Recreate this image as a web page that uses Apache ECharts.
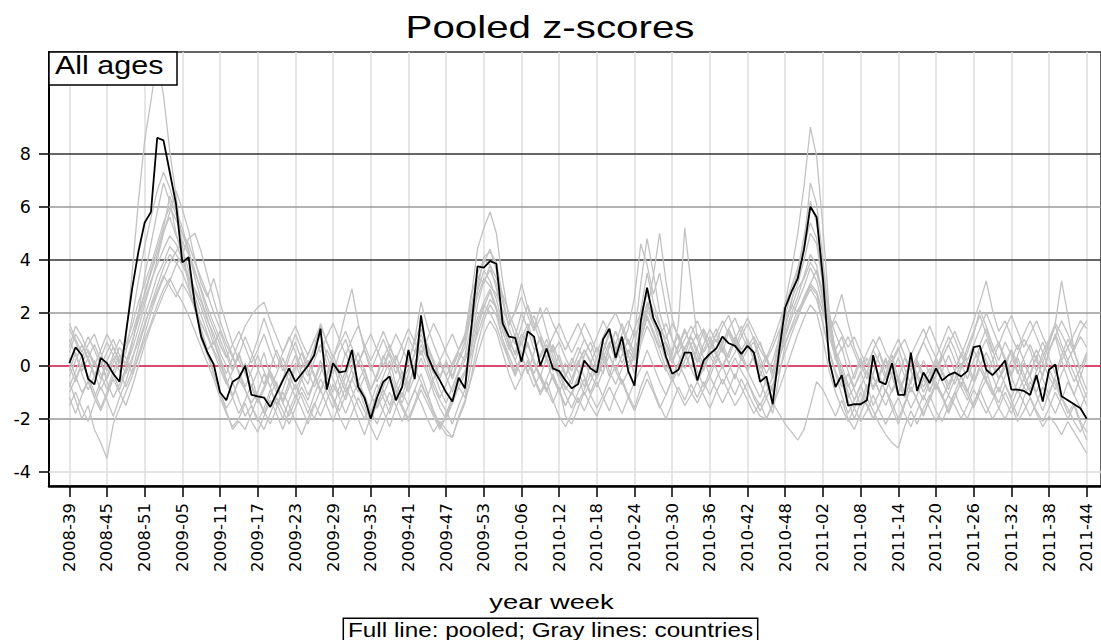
<!DOCTYPE html>
<html><head><meta charset="utf-8">
<script src="https://cdn.jsdelivr.net/npm/echarts/dist/echarts.min.js"></script>
<style>html,body{margin:0;padding:0;background:#fff}#c{width:1101px;height:640px}</style>
</head><body><div id="c"></div>
<script>
// ---- tick labels (every 6th ISO week) ----
const tickLabels = ['2008-39','2008-45','2008-51','2009-05','2009-11','2009-17','2009-23','2009-29','2009-35','2009-41','2009-47','2009-53','2010-06','2010-12','2010-18','2010-24','2010-30','2010-36','2010-42','2010-48','2011-02','2011-08','2011-14','2011-20','2011-26','2011-32','2011-38','2011-44'];

// ---- pooled z-scores (black line), weeks 2008-39 .. 2011-44 ----
const pooled = [
0.1,0.7,0.4,-0.5,-0.7,0.3,0.1,-0.3,-0.6,1.2,
2.9,4.3,5.4,5.8,8.6,8.5,7.3,6.1,3.9,4.1,
2.3,1.1,0.5,0.05,-1.0,-1.3,-0.6,-0.45,0.0,-1.1,
-1.15,-1.2,-1.55,-1.05,-0.55,-0.1,-0.6,-0.3,0.0,0.4,
1.4,-0.9,0.1,-0.25,-0.2,0.6,-0.8,-1.2,-2.0,-1.2,
-0.6,-0.4,-1.3,-0.8,0.6,-0.5,1.9,0.4,-0.15,-0.55,
-1.0,-1.35,-0.45,-0.85,1.4,3.75,3.7,3.95,3.85,1.6,
1.1,1.05,0.15,1.3,1.1,0.0,0.65,-0.1,-0.2,-0.55,
-0.85,-0.7,0.2,-0.1,-0.25,1.0,1.4,0.3,1.1,-0.2,
-0.75,1.7,2.95,1.8,1.3,0.35,-0.3,-0.15,0.5,0.5,
-0.55,0.2,0.45,0.65,1.1,0.85,0.75,0.45,0.75,0.5,
-0.6,-0.4,-1.45,0.5,2.2,2.8,3.3,4.4,6.0,5.6,
3.3,0.2,-0.8,-0.35,-1.5,-1.45,-1.45,-1.3,0.4,-0.6,
-0.7,0.1,-1.1,-1.1,0.5,-0.95,-0.25,-0.65,-0.1,-0.55,
-0.35,-0.25,-0.4,-0.2,0.7,0.75,-0.15,-0.35,-0.1,0.2,
-0.9,-0.9,-0.95,-1.1,-0.35,-1.35,-0.15,0.05,-1.15,-1.3,
-1.45,-1.6,-2.0];

// ---- country z-scores (gray lines) ----
const countryA = [
0.5,1.2,0.8,0.2,-0.4,0.3,0.9,0.4,0.1,1.0,
3.5,6.2,8.5,10.0,11.6,10.2,8.1,6.4,4.5,3.0,
2.2,1.0,0.4,-0.3,-1.0,-1.6,-1.2,-0.5,-0.9,-1.4,
-1.0,-0.3,-0.8,-1.5,-0.9,-0.2,0.4,-0.3,-0.7,0.2,
0.8,0.1,-0.5,-1.1,-0.4,0.3,-0.6,-1.3,-1.8,-1.0,
-0.4,0.2,-0.7,-1.2,-0.3,0.5,1.2,0.6,-0.2,-0.9,
-1.4,-0.8,-0.2,0.4,1.5,2.8,3.6,3.2,2.5,1.6,
0.9,0.5,1.2,0.8,0.1,-0.4,0.3,0.7,-0.2,-0.8,
-1.1,-0.5,0.4,0.9,0.2,-0.3,0.8,1.3,0.6,-0.1,
0.5,1.4,2.1,1.6,0.9,0.2,-0.5,0.1,0.7,1.1,
0.4,-0.2,0.6,1.0,0.5,1.3,0.8,0.2,0.6,0.9,
0.1,-0.6,-0.9,0.4,1.2,2.0,2.6,3.4,4.2,3.8,
2.4,1.1,0.3,-0.4,-1.2,-0.8,-0.2,-0.9,-0.3,0.5,
-0.4,-1.0,-0.5,0.3,-0.2,-0.8,-1.3,-0.6,0.2,-0.3,
-0.9,-0.2,0.5,0.1,-0.5,0.8,1.4,0.6,-0.1,-0.7,
-1.2,-0.6,0.1,-0.4,-1.0,-0.3,0.6,1.1,0.2,-0.5,
-1.1,-0.4,0.3];
const countryB = [
-0.8,-0.2,0.4,-0.5,-1.2,-0.6,0.1,-0.3,-0.9,-0.2,
0.8,2.0,3.4,4.6,5.8,6.9,6.2,5.0,4.1,3.2,
2.5,1.4,0.6,0.9,0.2,-0.5,-1.1,-0.6,0.1,-0.4,
-1.2,-1.8,-1.1,-0.6,-1.4,-0.8,-0.1,0.5,-0.2,-0.8,
-0.3,0.6,0.1,-0.7,-1.3,-0.5,0.2,-0.4,-1.1,-1.6,
-0.8,-0.2,0.4,-0.3,-0.9,0.1,0.8,0.2,-0.6,-1.2,
-0.7,-0.1,0.5,0.2,0.9,1.8,2.4,2.9,2.2,1.3,
0.6,1.2,0.4,-0.3,0.5,1.1,0.2,-0.5,-1.0,-0.4,
0.3,-0.2,-0.8,0.1,0.7,0.3,-0.4,0.5,1.1,0.4,
-0.3,0.8,1.5,1.0,0.3,-0.2,0.6,1.2,0.5,-0.1,
0.7,1.3,0.6,0.1,0.8,1.4,0.9,0.3,-0.2,0.4,
0.9,0.2,-0.3,1.1,2.4,3.6,5.0,6.8,9.0,7.9,
5.2,2.1,0.4,-0.6,-1.3,-2.0,-1.4,-0.7,-1.5,-1.0,
-0.3,0.4,-0.5,-1.2,-0.6,0.2,-0.3,-0.9,-0.4,0.3,
0.8,0.2,-0.4,-1.0,-0.3,0.5,1.0,0.3,-0.5,-0.1,
0.6,-0.2,-0.8,-0.3,0.4,-0.5,-1.1,-0.4,0.2,0.7,
0.1,-0.6,-1.2];
const countryC = [
1.4,0.9,0.3,0.8,1.2,0.5,-0.2,0.4,1.0,0.6,
1.2,2.0,2.7,3.5,4.2,5.1,5.6,4.9,4.4,3.6,
2.8,2.2,1.5,0.8,1.3,0.6,-0.1,0.5,-0.3,-0.8,
-0.2,0.5,-0.4,-1.0,-0.5,0.3,0.9,0.2,-0.4,0.6,
1.2,0.4,-0.3,0.5,1.0,0.2,-0.6,-0.1,-0.9,-0.4,
0.3,0.8,0.1,-0.5,0.2,0.9,1.6,0.7,0.1,-0.5,
0.2,-0.4,0.3,0.9,2.6,4.4,5.2,5.8,5.0,3.2,
1.8,1.1,2.0,1.4,0.6,1.0,0.3,-0.2,0.4,-0.3,
-0.7,0.1,0.6,0.2,-0.4,0.5,1.2,0.7,0.1,0.6,
0.2,1.0,1.9,1.3,0.7,0.9,0.3,-0.4,0.2,0.8,
1.2,0.5,0.9,1.4,0.8,0.3,1.0,1.5,0.9,0.2,
-0.4,0.3,-0.2,0.8,1.6,2.2,2.9,3.3,3.9,3.5,
2.6,1.5,0.6,1.1,0.3,-0.5,0.2,-0.3,0.6,0.1,
-0.5,0.2,0.7,-0.1,-0.7,0.3,0.9,0.4,-0.2,0.5,
1.1,0.6,-0.1,0.7,1.3,1.9,1.2,0.5,0.9,0.3,
-0.3,0.4,1.0,0.6,-0.2,0.3,0.9,1.5,0.8,0.2,
0.7,1.3,1.7];
const countryD = [
-1.5,-1.0,-1.6,-2.1,-1.4,-0.8,-1.3,-1.9,-1.2,-0.6,
0.2,1.1,1.9,2.6,3.4,3.9,4.5,4.2,3.8,3.3,
2.9,2.4,1.7,1.2,0.5,0.0,-0.6,-1.3,-1.9,-1.5,
-2.1,-1.6,-0.9,-1.4,-2.0,-1.3,-0.7,-1.2,-1.8,-1.1,
-0.5,-1.0,-1.6,-0.8,-0.2,-0.9,-1.5,-2.0,-1.4,-0.7,
-1.2,-1.8,-1.1,-0.5,-1.0,-0.4,0.3,-0.3,-1.0,-1.6,
-2.0,-1.4,-0.8,-1.2,0.1,1.4,2.2,2.8,2.1,1.0,
0.2,-0.4,0.3,0.9,0.1,-0.5,-1.0,-0.3,-0.9,-1.5,
-1.0,-0.4,-1.1,-0.6,0.0,0.5,-0.2,-0.7,-0.1,0.4,
1.2,3.1,4.8,3.5,2.0,1.2,0.4,1.6,5.2,3.1,
1.0,0.3,-0.4,0.2,0.7,0.1,-0.5,0.3,0.9,0.4,
-0.6,-1.2,-1.8,-0.4,0.8,1.5,2.1,2.5,3.0,2.7,
1.6,0.5,-0.3,-1.1,-1.8,-1.3,-0.7,-1.4,-2.0,-1.5,
-0.9,-1.6,-2.2,-1.5,-0.8,-1.3,-1.9,-1.2,-0.6,-1.1,
-1.7,-1.0,-0.4,-0.9,-1.5,-0.8,-0.2,-0.9,-1.4,-0.7,
-1.3,-1.9,-1.2,-0.6,-1.1,-1.7,-1.0,-0.5,-1.2,-1.8,
-1.4,-2.1,-2.5];
const countryE = [
-0.6,-1.3,-2.0,-1.5,-2.4,-2.9,-3.5,-2.2,-1.6,-1.0,
-0.4,0.3,1.0,1.6,2.3,2.9,3.3,2.8,2.4,1.9,
1.3,0.7,0.1,-0.5,-1.2,-1.8,-2.3,-2.0,-1.4,-2.1,
-2.5,-1.9,-1.3,-1.8,-2.4,-1.7,-1.1,-1.6,-2.2,-1.5,
-0.9,-1.5,-2.1,-1.4,-0.8,-1.3,-2.0,-2.6,-1.9,-1.2,
-1.7,-2.3,-1.6,-1.0,-1.5,-0.9,-0.3,-1.0,-1.7,-2.2,
-2.6,-2.7,-1.9,-1.3,-0.5,0.4,1.2,1.7,1.3,0.5,
-0.3,-0.9,-0.4,0.2,-0.5,-1.1,-0.6,-1.3,-1.9,-2.3,
-1.8,-1.2,-1.7,-1.1,-0.6,-1.2,-1.7,-1.0,-0.5,-1.1,
-1.6,-0.8,-0.2,-0.9,-1.5,-2.0,-1.4,-0.8,-1.3,-0.7,
-1.2,-0.6,-1.1,-0.5,0.0,-0.6,-1.1,-0.5,-1.0,-1.5,
-1.9,-2.0,-1.4,-1.8,-2.2,-2.5,-2.8,-2.4,-1.5,-0.6,
-0.9,-1.4,-1.9,-1.3,-2.0,-2.4,-1.8,-1.2,-1.7,-2.2,
-2.6,-2.9,-3.1,-2.3,-1.7,-2.2,-1.6,-1.1,-1.7,-2.1,
-1.5,-1.0,-1.6,-2.0,-1.4,-0.9,-1.5,-2.0,-1.6,-1.0,
-1.5,-2.1,-1.7,-1.2,-1.8,-2.3,-1.9,-2.2,-2.6,-2.1,
-2.5,-2.9,-3.3];
const countryF = [
0.3,-0.4,-1.0,-0.6,0.2,-0.3,-0.9,-0.2,0.4,0.0,
0.6,1.4,2.3,3.1,4.0,5.0,5.8,6.6,5.9,5.1,
4.0,3.1,2.6,3.3,2.4,1.6,0.8,0.2,-0.3,0.3,
1.0,1.8,1.1,0.4,-0.2,0.5,1.2,0.6,0.0,0.7,
1.6,0.9,0.3,1.0,2.0,2.9,1.6,0.6,-0.2,0.4,
1.0,0.4,-0.3,0.3,1.1,0.5,1.4,0.8,0.2,-0.4,
0.1,-0.5,0.2,0.7,2.0,3.2,3.9,4.4,3.6,2.4,
1.5,2.1,3.1,2.2,1.4,2.2,1.3,0.5,0.9,0.3,
-0.2,0.4,1.0,0.5,-0.1,0.6,1.3,0.8,1.6,0.9,
0.3,1.1,2.4,1.8,1.2,0.6,0.1,0.7,1.3,0.8,
0.2,0.8,1.4,0.9,1.5,1.9,1.2,0.6,1.0,0.5,
-0.1,0.4,-0.5,0.6,1.4,2.5,3.1,4.0,5.0,4.6,
3.0,1.4,0.2,0.7,-0.2,-0.8,-0.3,0.3,-0.4,-1.0,
-0.4,0.2,-0.6,-1.2,-0.5,0.1,-0.5,-1.0,-0.3,0.4,
-0.2,-0.7,-0.1,0.5,1.2,2.1,1.5,0.8,0.2,0.9,
0.4,-0.3,0.3,0.8,0.2,-0.4,0.5,1.2,0.6,0.0,
-0.6,-0.1,0.4];
const countryG = [
-0.2,0.5,-0.3,-0.9,-0.4,0.2,-0.6,-1.2,-0.7,-0.1,
0.9,1.7,2.5,3.2,3.8,4.4,4.9,4.6,4.0,3.4,
2.6,1.9,1.2,0.6,0.1,-0.6,-1.2,-1.8,-1.3,-0.7,
-1.3,-0.8,-0.2,-0.7,-1.3,-0.6,0.1,-0.5,-1.1,-0.6,
0.2,-0.4,-1.0,-0.3,0.5,-0.2,-0.8,-1.5,-2.1,-1.4,
-0.9,-1.5,-0.8,-0.2,-0.7,-0.1,0.6,-0.1,-0.8,-1.3,
-1.7,-2.2,-1.5,-0.9,0.7,2.3,3.2,3.6,3.1,1.8,
0.7,0.2,0.9,0.3,-0.3,0.4,1.0,0.4,-0.3,-0.9,
-0.5,0.2,-0.4,-1.0,-0.4,0.3,0.9,0.2,0.8,1.4,
2.6,4.6,3.8,2.7,3.5,2.2,1.0,0.4,-0.1,0.5,
-0.2,-0.8,-0.2,0.4,-0.1,0.5,1.0,0.4,-0.2,-0.7,
-1.2,-0.5,-1.0,0.3,1.1,1.8,2.4,3.0,3.7,3.2,
2.2,1.3,1.9,2.7,1.6,0.7,0.1,-0.5,0.2,-0.4,
-1.0,-0.3,0.3,-0.4,-1.0,-0.4,0.2,-0.3,-0.9,-0.2,
0.4,-0.2,-0.8,-0.1,0.6,0.1,-0.5,0.2,0.8,0.2,
-0.4,0.3,-0.3,-0.9,-0.2,0.5,-0.1,-0.7,-1.3,-0.6,
-1.1,-1.6,-1.0];
const countryH = [
1.0,0.4,-0.2,0.3,0.8,0.2,-0.5,0.1,0.7,0.3,
-0.3,0.4,1.2,2.0,2.7,3.3,3.9,4.3,4.7,4.2,
3.5,2.9,2.2,1.6,1.0,0.4,-0.2,0.4,1.1,0.5,
-0.1,-0.7,-0.1,0.6,0.0,-0.6,-1.2,-0.5,0.2,-0.4,
-1.0,-0.3,0.4,-0.2,-0.8,-0.1,0.5,-0.2,-0.9,-0.3,
0.4,-0.2,-0.9,-1.4,-0.7,-0.1,-0.6,-1.2,-0.5,0.1,
-0.4,-1.0,-0.3,0.2,1.1,2.9,4.1,4.3,3.9,2.6,
1.4,0.8,1.5,2.3,1.6,0.9,0.3,0.8,0.2,-0.4,
0.1,0.7,0.2,-0.4,0.3,0.9,0.4,-0.2,0.4,1.0,
0.5,1.3,2.0,3.4,5.0,3.2,1.8,1.0,0.4,1.1,
0.6,0.0,0.7,1.2,0.6,0.1,0.5,1.1,1.6,1.0,
0.3,-0.3,0.2,1.0,1.9,2.8,3.5,4.6,6.9,6.1,
4.0,1.8,0.6,0.0,-0.7,-1.3,-0.8,-0.2,-0.8,-0.3,
0.3,-0.4,-1.1,-0.5,0.1,-0.4,-1.0,-0.5,0.1,-0.6,
-1.1,-0.5,0.1,-0.5,0.2,0.7,0.2,-0.4,-1.0,-0.4,
0.2,0.8,0.2,-0.4,0.3,0.9,0.3,-0.3,0.4,1.0,
0.5,-0.1,0.5];
const countryI = [
-1.0,-0.5,0.1,-0.4,-1.0,-1.6,-1.0,-0.4,0.2,-0.3,
0.3,0.9,1.6,2.2,2.8,3.4,3.0,2.6,3.1,2.7,
2.2,1.6,1.1,0.5,-0.1,-0.7,-0.2,0.4,-0.2,-0.8,
-1.4,-0.9,-0.3,-0.8,-1.4,-1.9,-1.3,-0.8,-1.3,-0.6,
0.0,-0.6,-1.2,-1.7,-1.1,-0.5,-1.0,-0.4,-1.1,-1.6,
-1.1,-0.5,-1.0,-1.5,-2.0,-1.4,-0.7,-1.2,-1.8,-2.3,
-1.8,-1.2,-0.6,-0.2,0.6,1.6,2.3,2.0,1.5,0.8,
0.2,-0.3,0.3,0.8,0.2,-0.4,-0.9,-0.4,-1.0,-1.5,
-1.0,-1.4,-0.9,-0.3,-0.8,-0.2,0.4,-0.2,-0.7,-0.2,
0.4,1.0,1.8,1.2,0.6,-0.1,-0.6,-0.1,0.5,-0.1,
-0.6,-0.1,0.4,-0.1,-0.7,-0.2,0.3,-0.2,-0.6,-1.1,
-1.5,-1.0,-0.4,0.3,0.9,1.4,1.9,2.4,2.9,2.5,
1.6,0.6,-0.2,-0.8,-0.3,-0.9,-1.5,-0.9,-0.4,-1.0,
-1.5,-0.9,-0.4,-1.0,-1.6,-1.1,-0.5,-0.1,-0.7,-1.2,
-0.7,-0.2,-0.8,-1.3,-0.7,-0.1,-0.6,-1.1,-0.5,0.1,
-0.4,-1.0,-0.5,0.1,0.6,0.1,0.8,1.6,3.2,1.9,
0.6,-0.3,-0.9];
const countryJ = [
0.7,1.5,1.1,0.5,0.0,0.6,1.2,0.7,0.2,0.8,
1.5,2.4,3.1,3.8,4.6,5.4,6.0,5.5,5.0,4.6,
3.9,3.3,2.7,2.0,1.4,0.8,0.3,0.9,1.5,1.9,
2.2,2.4,1.7,1.1,0.5,1.0,1.5,0.9,0.4,1.0,
0.5,1.1,1.6,1.0,0.4,1.0,1.5,0.8,0.2,0.7,
1.3,0.7,0.2,0.8,1.4,0.9,0.4,1.0,1.6,1.1,
0.5,0.0,0.6,1.1,1.9,2.6,3.3,3.0,2.7,2.1,
1.6,2.0,2.6,1.9,1.3,1.8,2.2,1.6,1.1,0.6,
1.1,1.6,1.0,0.5,1.1,1.7,1.2,0.6,1.2,1.7,
1.1,1.6,2.3,1.7,1.1,1.6,1.0,0.5,1.0,1.5,
1.0,1.4,0.9,0.4,0.9,1.4,1.8,1.2,0.7,1.1,
0.6,0.2,0.7,1.3,1.8,2.3,2.0,2.6,3.1,2.8,
2.0,1.3,1.7,1.2,0.7,1.1,0.5,0.0,0.6,1.1,
0.5,0.1,0.6,1.0,0.4,0.9,1.4,0.8,0.3,0.9,
1.5,1.0,0.4,1.0,1.7,2.4,3.2,2.1,1.3,1.7,
1.1,0.6,1.2,1.7,1.1,0.5,1.0,1.6,1.2,0.7,
1.2,1.7,1.4];
const countryK = [
-0.4,0.2,0.8,0.3,-0.3,-0.9,-0.4,0.3,-0.2,-0.8,
-0.2,0.7,1.5,2.3,3.0,3.7,4.2,3.9,3.5,2.9,
2.1,1.3,0.5,-0.3,-1.0,-1.7,-2.4,-2.1,-2.4,-1.8,
-1.2,-1.7,-2.2,-1.6,-1.0,-1.5,-2.1,-2.6,-2.0,-1.4,
-1.9,-1.3,-0.7,-1.2,-1.8,-1.2,-0.6,-1.1,-1.7,-2.2,
-1.6,-1.0,-1.5,-2.1,-1.5,-0.9,-1.4,-2.0,-2.5,-2.1,
-2.4,-2.7,-2.0,-1.4,-0.4,0.8,1.7,2.3,1.9,1.0,
0.4,-0.2,0.4,-0.2,-0.8,-0.3,-0.9,-1.4,-0.8,-1.9,
-2.2,-1.6,-1.0,-1.5,-1.9,-1.3,-0.8,-1.3,-1.8,-1.2,
-0.6,-0.1,0.6,0.0,-0.6,-1.1,-0.5,0.1,-0.4,-1.0,
-1.4,-0.9,-0.4,-0.9,-1.4,-0.9,-0.3,-0.8,-1.3,-1.8,
-1.4,-2.0,-1.5,-0.9,-0.2,0.5,1.2,1.8,2.3,2.0,
1.0,-0.2,-1.0,-1.6,-2.1,-1.6,-1.0,-1.5,-2.0,-1.5,
-0.9,-1.4,-2.0,-1.4,-0.8,-1.3,-1.8,-1.3,-0.7,-1.2,
-1.8,-1.2,-0.6,-1.1,-1.6,-1.0,-0.5,-1.0,-1.6,-2.0,
-1.5,-0.9,-1.4,-1.9,-1.4,-0.8,-1.3,-1.8,-1.2,-1.6,
-2.1,-2.5,-2.0];
const countryL = [
1.6,1.0,0.5,1.1,0.6,0.0,0.5,1.0,0.4,0.1,
0.9,1.8,2.8,3.6,4.4,5.2,6.4,5.7,5.0,4.3,
3.6,2.8,2.0,1.4,0.8,0.3,0.8,1.3,0.7,0.1,
0.6,1.2,0.5,-0.1,0.5,1.1,0.5,-0.1,0.4,1.0,
1.5,0.9,0.3,0.8,1.3,0.7,0.1,0.7,1.2,0.6,
0.0,0.6,1.2,0.7,0.1,1.0,2.4,1.5,0.8,0.2,
0.7,1.2,0.6,1.0,2.2,3.5,4.0,3.8,3.3,2.7,
2.0,1.4,0.8,1.4,1.9,1.2,0.6,1.1,1.6,1.0,
0.5,1.0,1.6,1.1,0.5,1.1,1.6,2.0,1.4,0.8,
1.4,2.0,2.7,2.1,1.5,1.0,1.6,1.1,0.6,1.2,
1.7,1.1,0.6,1.2,1.7,1.2,0.7,1.3,1.8,1.3,
0.8,0.3,0.9,1.6,2.3,3.0,3.7,4.5,5.4,4.8,
3.3,1.9,1.2,0.6,1.1,0.5,-0.1,0.5,1.0,0.5,
-0.1,0.5,1.0,0.4,-0.2,0.4,0.9,1.5,0.9,0.3,
0.8,1.3,0.7,0.2,0.8,1.4,2.0,1.4,0.8,1.4,
1.9,1.3,0.7,1.2,1.7,1.1,0.6,1.1,1.7,1.2,
0.6,1.1,0.7];
const countryM = [
-1.2,-1.8,-1.1,-0.6,-1.2,-1.7,-1.1,-0.5,-1.0,-1.5,
-0.8,0.0,0.8,1.5,2.1,2.7,3.2,3.8,4.2,4.8,
5.0,4.3,3.4,2.5,1.7,1.0,0.4,-0.3,-0.9,-1.5,
-2.0,-2.4,-1.8,-1.2,-1.7,-2.2,-1.6,-1.0,-1.5,-2.0,
-1.4,-0.8,-1.3,-1.9,-2.4,-1.8,-1.2,-1.7,-2.3,-2.8,
-2.2,-1.6,-1.1,-1.6,-2.1,-1.5,-0.9,-1.4,-1.9,-2.4,
-1.9,-1.3,-0.8,-0.3,0.4,1.2,1.9,2.5,2.2,1.5,
0.8,0.2,-0.4,0.2,-0.4,-1.0,-0.5,0.1,-0.5,-1.1,
-1.6,-1.0,-0.5,-1.1,-1.6,-1.1,-0.5,0.0,-0.6,-1.2,
-1.7,-1.1,-0.5,-1.0,-1.6,-1.1,-0.5,-1.0,-1.5,-1.1,
-0.6,-1.1,-1.6,-1.0,-0.5,-1.0,-1.5,-1.1,-0.6,-1.2,
-1.7,-1.2,-0.7,-0.2,0.5,1.2,1.8,2.5,3.1,3.6,
2.8,1.6,0.5,-0.3,-1.0,-1.6,-2.1,-1.7,-1.1,-1.7,
-2.2,-1.7,-1.2,-1.8,-2.3,-1.7,-1.1,-1.6,-2.1,-1.6,
-1.1,-1.5,-2.0,-1.5,-0.9,-1.3,-1.8,-1.3,-0.8,-1.3,
-1.8,-1.3,-0.8,-1.2,-1.7,-2.1,-1.6,-1.0,-1.5,-2.0,
-1.5,-2.2,-2.8];
const countryN = [
0.0,-0.6,0.1,0.6,0.1,-0.5,0.2,0.7,0.1,0.5,
1.8,3.2,4.5,5.6,6.6,7.3,6.7,5.9,5.2,4.4,
3.3,2.5,1.8,1.0,0.3,-0.3,0.3,-0.2,-0.8,-0.2,
0.4,-0.2,-0.8,-0.3,0.3,-0.3,-0.9,-0.4,0.2,-0.3,
-0.9,-0.4,0.2,-0.4,-1.0,-0.5,0.1,0.6,0.0,-0.6,
-0.1,0.5,0.0,-0.6,-0.1,0.4,1.0,0.3,-0.3,0.2,
-0.4,0.1,0.6,1.2,2.7,3.4,3.1,3.8,2.9,1.9,
1.1,0.4,1.0,1.6,0.9,0.3,0.8,0.2,-0.4,0.1,
-0.5,0.0,0.6,0.1,-0.5,0.1,0.7,1.3,0.7,0.1,
0.7,2.1,3.5,2.4,1.6,0.8,0.2,0.8,1.4,0.7,
0.1,0.6,1.1,0.5,0.0,0.5,1.1,0.5,-0.1,0.4,
-0.2,-0.7,-1.2,0.1,1.5,2.4,3.6,4.9,6.2,5.4,
3.7,1.6,0.4,-0.2,-0.8,-0.3,0.3,-0.3,-0.9,-0.4,
0.2,-0.4,-1.0,-0.4,0.2,-0.3,-0.8,-0.3,0.3,-0.2,
-0.7,-0.2,0.4,-0.1,-0.6,0.0,0.5,0.0,-0.5,0.1,
0.6,0.1,-0.5,-1.0,-0.5,0.1,-0.4,-0.9,-0.3,0.2,
-0.3,-0.9,-1.5];
const countries = [countryA,countryB,countryC,countryD,countryE,countryF,countryG,countryH,countryI,countryJ,countryK,countryL,countryM,countryN];

// ---- layout (pixels) ----
const plotL = 49, plotT = 52, plotR = 1101, plotB = 486;
const firstTickX = 69.3, lastTickX = 1086.7;
const nWeeks = pooled.length - 1;
const pxPerWeek = (lastTickX - firstTickX) / nWeeks;
const xMin = (plotL - firstTickX) / pxPerWeek;
const xMax = (plotR - firstTickX) / pxPerWeek;
const yMin = -4.534, yMax = 11.836;
const pxPerUnit = (plotB - plotT) / (yMax - yMin);
const gTop2 = plotT + (yMax - 8) * pxPerUnit;
const gBot2 = plotT + (yMax + 4) * pxPerUnit;
const FONT = 'DejaVu Sans';
const SANS = 'Liberation Sans, Arial, sans-serif';

const chart = echarts.init(document.getElementById('c'), null, {renderer: 'svg'});

const hidden = {show: false};
const series = countries.map(arr => ({
  type: 'line', xAxisIndex: 0, yAxisIndex: 0, symbol: 'none', silent: true,
  lineStyle: {color: '#c2c2c2', width: 1.3}, z: 2,
  data: arr.map((v, i) => [i, v])
}));
series.push({
  type: 'line', xAxisIndex: 0, yAxisIndex: 0, symbol: 'none', silent: true,
  lineStyle: {color: '#000', width: 1.8}, z: 3,
  data: pooled.map((v, i) => [i, v])
});

chart.setOption({
  animation: false,
  backgroundColor: '#fff',
  grid: [
    {left: plotL, top: plotT, right: 1101 - plotR, bottom: 640 - plotB, show: true, borderColor: '#333', borderWidth: 1.5, backgroundColor: 'transparent', outerBoundsMode: 'none'},
    {left: firstTickX, top: plotT, right: 1101 - lastTickX, bottom: 640 - plotB, outerBoundsMode: 'none'},
    {left: plotL, top: gTop2, right: 1101 - plotR, bottom: 640 - gBot2, outerBoundsMode: 'none'}
  ],
  xAxis: [
    {gridIndex: 0, type: 'value', min: xMin, max: xMax,
     axisLine: {show: true, onZero: false, lineStyle: {color: '#000', width: 2.5}},
     axisTick: hidden, axisLabel: hidden, splitLine: hidden},
    {gridIndex: 1, type: 'value', min: 0, max: nWeeks, interval: 6, z: 0,
     axisLine: {show: false, onZero: false},
     axisTick: {show: true, length: 11, lineStyle: {color: '#000', width: 1.5}},
     axisLabel: {rotate: 90, margin: 17, color: '#000', fontFamily: FONT, fontSize: 16.5,
                 formatter: v => tickLabels[Math.round(v / 6)] || ''},
     splitLine: {show: true, lineStyle: {color: '#dedede', width: 1.5}}},
    {gridIndex: 2, type: 'value', min: 0, max: 1, show: false}
  ],
  yAxis: [
    {gridIndex: 0, type: 'value', min: yMin, max: yMax,
     axisLine: {show: true, onZero: false, lineStyle: {color: '#000', width: 2}},
     axisTick: hidden, axisLabel: hidden, splitLine: hidden},
    {gridIndex: 1, type: 'value', min: 0, max: 1, show: false},
    {gridIndex: 2, type: 'value', min: -4, max: 8, interval: 2, z: 1,
     axisLine: {show: false, onZero: false},
     axisTick: {show: true, length: 10, lineStyle: {color: '#000', width: 1.5}},
     axisLabel: {margin: 18, color: '#000', fontFamily: FONT, fontSize: 17.5},
     splitLine: {show: true, lineStyle: {width: 1.6,
       color: ['#dcdcdc', '#9a9a9a', '#cc1040', '#9a9a9a', '#333333', '#9a9a9a', '#333333']}}}
  ],
  series: series,
  graphic: [
    {type: 'text', x: 550, y: 26.7, scaleX: 1.26, z: 100,
     style: {text: 'Pooled z-scores', fill: '#000', fontFamily: SANS, fontSize: 32,
             align: 'center', verticalAlign: 'middle', textAlign: 'center', textVerticalAlign: 'middle'}},
    {type: 'rect', z: 100, shape: {x: 49, y: 52, width: 128, height: 33},
     style: {fill: '#fff', stroke: '#000', lineWidth: 1.5}},
    {type: 'text', x: 55, y: 65.9, scaleX: 1.22, z: 101,
     style: {text: 'All ages', fill: '#000', fontFamily: SANS, fontSize: 25,
             align: 'left', verticalAlign: 'middle', textAlign: 'left', textVerticalAlign: 'middle'}},
    {type: 'text', x: 551.5, y: 602, scaleX: 1.3, z: 100,
     style: {text: 'year week', fill: '#000', fontFamily: SANS, fontSize: 21,
             align: 'center', verticalAlign: 'middle', textAlign: 'center', textVerticalAlign: 'middle'}},
    {type: 'rect', z: 100, shape: {x: 343.3, y: 618.3, width: 414.4, height: 30},
     style: {fill: 'none', stroke: '#000', lineWidth: 1.5}},
    {type: 'text', x: 348, y: 630, scaleX: 1.215, z: 101,
     style: {text: 'Full line: pooled; Gray lines: countries', fill: '#000', fontFamily: SANS, fontSize: 20,
             align: 'left', verticalAlign: 'middle', textAlign: 'left', textVerticalAlign: 'middle'}}
  ]
});
</script>
</body></html>
